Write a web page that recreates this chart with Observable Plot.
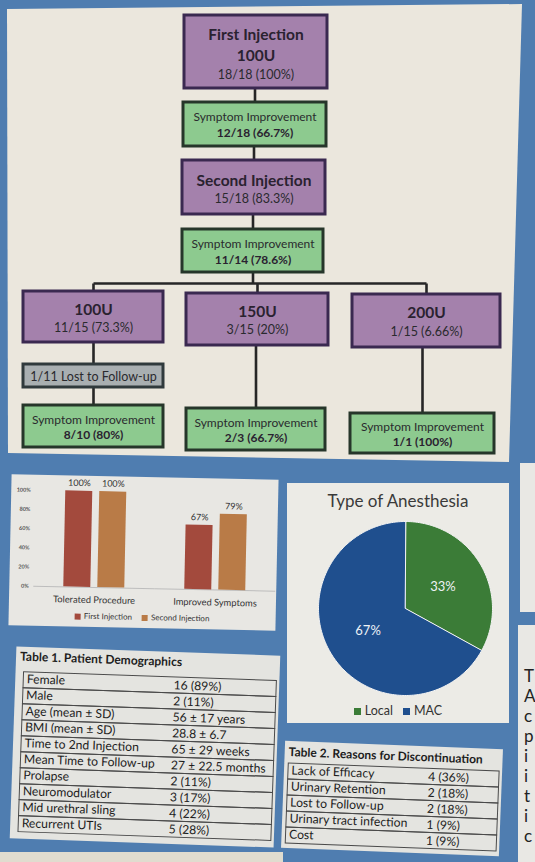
<!DOCTYPE html>
<html><head><meta charset="utf-8">
<script src="https://cdn.jsdelivr.net/npm/d3@7"></script>
<script src="https://cdn.jsdelivr.net/npm/@observablehq/plot@0.6"></script>
<style>
html,body{margin:0;padding:0}
body{width:535px;height:862px;background:#4f7db0;position:relative;overflow:hidden;font-family:Lato,"Open Sans",sans-serif;color:#222}
.abs{position:absolute}
.legend span.sw{display:inline-block;vertical-align:middle}
</style></head><body>
<div id="flowbg" class="abs" style="left:0;top:0;width:535px;height:470px;background:#ebe7dd;clip-path:polygon(7px 9px,522px 4px,509px 462px,8px 453px)"></div>
<div id="flow" class="abs" style="left:0;top:0"></div>

<div id="barpanel" class="abs" style="left:10px;top:477px;width:267px;height:151px;background:#e8e7e3;transform:rotate(1.2deg)">
  <div id="bars"></div>
  <div id="barlegend" class="legend" style="text-align:center;font-size:8px;line-height:16px;color:#333"></div>
</div>

<div id="piepanel" class="abs" style="left:287px;top:483px;width:222px;height:240px;background:#ecebe6">
  <div id="pietitle" style="height:30px;line-height:36px;text-align:center;font-size:17px;color:#3a3a3a"></div>
  <div id="pie"></div>
  <div id="pielegend" class="legend" style="text-align:center;font-size:12.5px;line-height:24px;color:#333"></div>
</div>

<div id="t1panel" class="abs" style="left:13px;top:651px;width:264px;height:192px;background:#e4e4e0;transform:rotate(2deg)">
  <div id="t1title" style="height:19px;line-height:19px;padding-left:4px;font-weight:bold;font-size:12px;color:#1d1d1d"></div>
  <div id="t1"></div>
</div>

<div id="t2panel" class="abs" style="left:283px;top:745px;width:218px;height:107px;background:#e4e4e0;transform:rotate(2.2deg)">
  <div id="t2title" style="height:19px;line-height:21px;padding-left:4px;font-weight:bold;font-size:12px;color:#1d1d1d;white-space:nowrap"></div>
  <div id="t2"></div>
</div>

<div class="abs" style="left:520px;top:463px;width:20px;height:149px;background:#e9e8e4"></div>
<div id="edgetext" class="abs" style="left:518px;top:625px;width:20px;height:240px;background:#e9e8e4"></div>
<div class="abs" style="left:0;top:852px;width:283px;height:10px;background:#e0dccf"></div>

<script>
// ---------- Flowchart data ----------
const nodeTitles = ["First Injection\n100U", "Symptom Improvement", "Second Injection", "Symptom Improvement",
  "100U", "150U", "200U", "1/11 Lost to Follow-up",
  "Symptom Improvement", "Symptom Improvement", "Symptom Improvement"];
const nodeCounts = ["18/18 (100%)", "12/18 (66.7%)", "15/18 (83.3%)", "11/14 (78.6%)",
  "11/15 (73.3%)", "3/15 (20%)", "1/15 (6.66%)", "",
  "8/10 (80%)", "2/3 (66.7%)", "1/1 (100%)"];
const nodeKinds = ["injection", "outcome", "injection", "outcome",
  "dose", "dose", "dose", "lost", "outcome", "outcome", "outcome"];
const flowLinks = [[0,1],[1,2],[2,3],[4,7],[7,8],[5,9],[6,10]];
const branchParent = 3;
const branchChildren = [4,5,6];

// ---------- Bar chart data ----------
const barGroups = ["Tolerated Procedure", "Improved Symptoms"];
const barSeries = ["First Injection", "Second Injection"];
const firstInjection = [1.00, 0.67];
const secondInjection = [1.00, 0.79];
const barTicks = [0, 0.2, 0.4, 0.6, 0.8, 1.0];

// ---------- Pie data ----------
const anesthesiaTypes = ["Local", "MAC"];
const anesthesiaShare = [33, 67];

// ---------- Tables ----------
const demoLabels = ["Female", "Male", "Age (mean ± SD)", "BMI (mean ± SD)", "Time to 2nd Injection",
  "Mean Time to Follow-up", "Prolapse", "Neuromodulator", "Mid urethral sling", "Recurrent UTIs"];
const demoValues = ["16 (89%)", "2 (11%)", "56 ± 17 years", "28.8 ± 6.7", "65 ± 29 weeks",
  "27 ± 22.5 months", "2 (11%)", "3 (17%)", "4 (22%)", "5 (28%)"];
const discLabels = ["Lack of Efficacy", "Urinary Retention", "Lost to Follow-up", "Urinary tract infection", "Cost"];
const discValues = ["4 (36%)", "2 (18%)", "2 (18%)", "1 (9%)", "1 (9%)"];

// ---------- Layout & styles (kept separate from data) ----------
const nodeLayout = [
  {x1:184,x2:327,y1:15,y2:88, ty:[35,56,74]},
  {x1:183,x2:326,y1:102,y2:146, ty:[117,133]},
  {x1:182,x2:325,y1:160,y2:214, ty:[181,198]},
  {x1:182,x2:323,y1:229,y2:272, ty:[244,260]},
  {x1:23,x2:163,y1:291,y2:342, ty:[310,327]},
  {x1:186,x2:328,y1:293,y2:345, ty:[312,329]},
  {x1:352,x2:500,y1:294,y2:347, ty:[313,331]},
  {x1:23,x2:163,y1:364,y2:387, ty:[376]},
  {x1:23,x2:163,y1:405,y2:447, ty:[420,435]},
  {x1:186,x2:325,y1:408,y2:450, ty:[423,438]},
  {x1:350,x2:494,y1:413,y2:453, ty:[427,442]}
];
const busY = 283;
const kindFill = {injection:"#a481ac", dose:"#a481ac", outcome:"#8dca8f", lost:"#a9afb1"};
const kindStroke = {injection:"#3a2950", dose:"#3a2950", outcome:"#26362a", lost:"#303a3c"};
const barColors = ["#a34a3d", "#b97b47"];
const pieColors = ["#3b7c37", "#1f4f8e"];
const FONT = "Lato, 'Open Sans', sans-serif";

// ---------- Flowchart ----------
const boxes = nodeTitles.map((t, i) => ({...nodeLayout[i], kind: nodeKinds[i]}));
const cx = b => (b.x1 + b.x2) / 2;
const segs = flowLinks.map(([a, b]) => ({x1: cx(boxes[b]), y1: boxes[a].y2, x2: cx(boxes[b]), y2: boxes[b].y1}));
segs.push({x1: cx(boxes[branchParent]), y1: boxes[branchParent].y2, x2: cx(boxes[branchParent]), y2: busY});
const childX = branchChildren.map(c => cx(boxes[c]));
segs.push({x1: d3.min(childX), y1: busY, x2: d3.max(childX), y2: busY});
branchChildren.forEach(c => segs.push({x1: cx(boxes[c]), y1: busY, x2: cx(boxes[c]), y2: boxes[c].y1}));

const lines = [];
nodeTitles.forEach((t, i) => {
  const parts = t.split("\n");
  const k = nodeKinds[i], L = nodeLayout[i];
  parts.forEach((p, j) => {
    const big = k === "injection" || k === "dose";
    lines.push({x: cx(L), y: L.ty[j], text: p, bold: big, size: big ? 15.5 : (k === "lost" ? 12.5 : 12)});
  });
  if (nodeCounts[i]) {
    lines.push({x: cx(L), y: L.ty[parts.length], text: nodeCounts[i], bold: k === "outcome", size: k === "outcome" ? 12 : 12.5});
  }
});

document.getElementById("flow").append(Plot.plot({
  width: 535, height: 470, margin: 0,
  style: {background: "transparent", fontFamily: FONT},
  x: {domain: [0, 535], range: [0, 535], axis: null},
  y: {domain: [0, 470], range: [0, 470], axis: null},
  color: {type: "identity"},
  marks: [
    Plot.link(segs, {x1: "x1", y1: "y1", x2: "x2", y2: "y2", stroke: "#262626", strokeWidth: 2.6}),
    Plot.rect(boxes, {x1: "x1", x2: "x2", y1: "y1", y2: "y2", fill: d => kindFill[d.kind], stroke: d => kindStroke[d.kind], strokeWidth: 3}),
    Plot.text(lines.filter(d => d.bold), {x: "x", y: "y", text: "text", fontSize: "size", fontWeight: "bold", fill: "#2a2230"}),
    Plot.text(lines.filter(d => !d.bold), {x: "x", y: "y", text: "text", fontSize: "size", fill: "#2a2a2e"})
  ]
}));

// ---------- Bar chart ----------
const barData = [];
barGroups.forEach((g, i) => {
  barData.push({group: g, series: barSeries[0], value: firstInjection[i]});
  barData.push({group: g, series: barSeries[1], value: secondInjection[i]});
});
document.getElementById("bars").append(Plot.plot({
  width: 267, height: 132, marginLeft: 23, marginRight: 1, marginTop: 15, marginBottom: 21,
  style: {background: "transparent", fontFamily: FONT, color: "#333"},
  fx: {domain: barGroups, padding: 0, label: null},
  x: {domain: barSeries, paddingInner: 0.2, paddingOuter: 0.84, axis: null},
  y: {domain: [0, 1], label: null},
  color: {domain: barSeries, range: barColors},
  marks: [
    Plot.axisY({ticks: barTicks, tickFormat: d3.format(".0%"), tickSize: 0, tickPadding: 5, fontSize: 5.5, fontWeight: "bold", label: null, fill: "#555"}),
    Plot.axisFx({anchor: "bottom", tickSize: 0, tickPadding: 9, fontSize: 9.3, label: null, fill: "#333"}),
    Plot.ruleY([0], {stroke: "#bdbdbd", strokeWidth: 1}),
    Plot.barY(barData, {fx: "group", x: "series", y: "value", fill: "series"}),
    Plot.text(barData, {fx: "group", x: "series", y: "value", text: d => d3.format(".0%")(d.value), dy: -8, fontSize: 9, fill: "#333"})
  ]
}));
document.getElementById("barlegend").innerHTML = barSeries.map((s, i) =>
  `<span style="margin:0 5px"><span class="sw" style="width:6px;height:6px;background:${barColors[i]};margin-right:3px"></span>${s}</span>`).join("");

// ---------- Pie chart ----------
const anesthesia = anesthesiaTypes.map((t, i) => ({type: t, share: anesthesiaShare[i], color: pieColors[i]}));
const arcs = d3.pie().sort(null).value(d => d.share)(anesthesia);
const pieMarks = arcs.map(a => {
  const pts = [{x: 0, y: 0}];
  const n = Math.ceil((a.endAngle - a.startAngle) / 0.02);
  for (let i = 0; i <= n; i++) {
    const ang = a.startAngle + (a.endAngle - a.startAngle) * i / n;
    pts.push({x: Math.sin(ang), y: Math.cos(ang)});
  }
  return Plot.line(pts, {x: "x", y: "y", fill: a.data.color, stroke: "#f4f4f4", strokeWidth: 1, curve: "linear-closed"});
});
const pieLabels = arcs.map(a => {
  const m = (a.startAngle + a.endAngle) / 2;
  return {x: 0.5 * Math.sin(m), y: 0.5 * Math.cos(m), text: a.data.share + "%"};
});
document.getElementById("pietitle").textContent = "Type of Anesthesia";
document.getElementById("pie").append(Plot.plot({
  width: 222, height: 186, margin: 0,
  style: {background: "transparent", fontFamily: FONT},
  x: {domain: [-1, 1], range: [31, 205], axis: null},
  y: {domain: [-1, 1], range: [182, 8], axis: null},
  marks: [
    ...pieMarks,
    Plot.text(pieLabels, {x: "x", y: "y", text: "text", fill: "#eef2f6", fontSize: 13})
  ]
}));
document.getElementById("pielegend").innerHTML = anesthesia.map(d =>
  `<span style="margin:0 5px"><span class="sw" style="width:7px;height:7px;background:${d.color};margin-right:4px"></span>${d.type}</span>`).join("");

// ---------- Tables ----------
function table(el, labels, values, width, height, gx0, gx1, valX) {
  const rows = labels.map((l, i) => ({label: l, value: values[i]}));
  document.getElementById(el).append(Plot.plot({
    width, height, margin: 0,
    style: {background: "transparent", fontFamily: FONT},
    x: {domain: [0, 1], range: [gx0, gx1], axis: null},
    y: {domain: labels, range: [1, height - 1], padding: 0, axis: null},
    marks: [
      Plot.barX(rows, {x1: () => 0, x2: () => 1, y: "label", fill: "none", stroke: "#4a4a4a", strokeWidth: 1}),
      Plot.text(rows, {x: () => 0, y: "label", text: "label", textAnchor: "start", dx: 3, dy: -1, fontSize: 12.2, fill: "#1d1d1d"}),
      Plot.text(rows, {x: () => valX, y: "label", text: "value", textAnchor: "start", dy: 0, fontSize: 12.2, fill: "#1d1d1d"})
    ]
  }));
}
document.getElementById("t1title").textContent = "Table 1. Patient Demographics";
table("t1", demoLabels, demoValues, 264, 171, 8, 261, 0.593);
document.getElementById("t2title").textContent = "Table 2. Reasons for Discontinuation";
table("t2", discLabels, discValues, 218, 85, 4, 215, 0.663);

// ---------- Cropped neighbouring text on right edge ----------
const edgeLetters = ["T", "A", "c", "p", "i", "i", "t", "i", "c"];
document.getElementById("edgetext").innerHTML = edgeLetters.map((c, i) =>
  `<div style="position:absolute;left:6px;top:${41 + i * 20}px;font-size:17px;line-height:20px;color:#222">${c}</div>`).join("");
</script>
</body></html>
